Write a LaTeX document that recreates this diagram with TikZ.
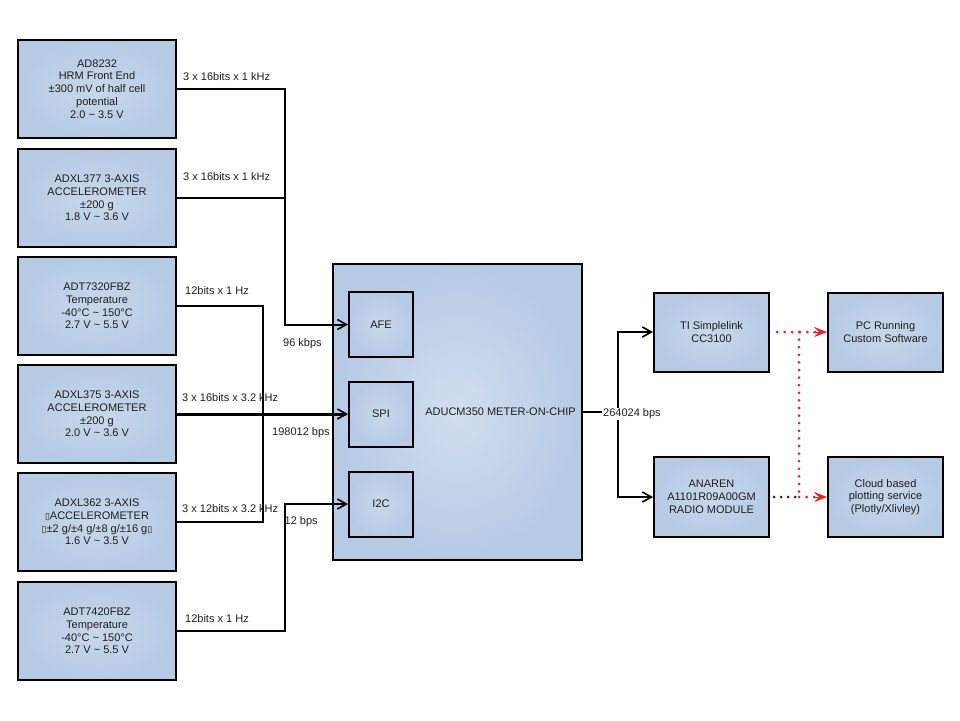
\documentclass[tikz,border=0pt]{standalone}
\usepackage{fontspec}
\setmainfont{Liberation Sans}
\newfontfamily\dejavu{DejaVu Sans}
\usetikzlibrary{arrows.meta}
\definecolor{boxin}{RGB}{200,216,236}
\definecolor{boxout}{RGB}{182,202,228}
\definecolor{dotred}{RGB}{226,38,38}
\definecolor{txtc}{RGB}{30,30,30}
\tikzset{
  blk/.style={draw=black, line width=2pt, inner color=boxin, outer color=boxout,
    align=center, text=txtc, font=\fontsize{11}{12.8}\selectfont, inner sep=0pt},
  sensor/.style={blk, minimum width=158pt, minimum height=98pt},
  port/.style={blk, minimum width=64pt, minimum height=65pt},
  dev/.style={blk, minimum width=115pt, minimum height=79pt},
  lbl/.style={anchor=west, text=txtc, font=\fontsize{11}{12.8}\selectfont, inner sep=0pt},
  wire/.style={line width=2pt, draw=black},
  barb/.style={-{Straight Barb[length=9pt,width=10pt,line width=1.6pt]}},
  reddot/.style={draw=dotred, line width=3pt, line cap=round, dash pattern=on 0pt off 7.6pt},
  blackdot/.style={draw=black!85, line width=3pt, line cap=round, dash pattern=on 0pt off 7pt},
  redtip/.style={-{Stealth[length=13pt,width=10pt,inset=5pt]}}
}
\begin{document}
\begin{tikzpicture}[x=1pt,y=-1pt]
\useasboundingbox[fill=white] (0,0) rectangle (960,720);

% sensors
\node[sensor] (s1) at (97,89) {AD8232\\HRM Front End\\±300 mV of half cell\\potential\\2.0 \textasciitilde{} 3.5 V};
\node[sensor] (s2) at (97,198) {ADXL377 3-AXIS\\ACCELEROMETER\\±200 g\\1.8 V \textasciitilde{} 3.6 V};
\node[sensor] (s3) at (97,306) {ADT7320FBZ\\Temperature\\-40°C \textasciitilde{} 150°C\\2.7 V \textasciitilde{} 5.5 V};
\node[sensor] (s4) at (97,414) {ADXL375 3-AXIS\\ACCELEROMETER\\±200 g\\2.0 V \textasciitilde{} 3.6 V};
\node[sensor] (s5) at (97,522) {ADXL362 3-AXIS\\{\dejavu\fontsize{9}{12.8}\selectfont ▯}ACCELEROMETER\\{\dejavu\fontsize{9}{12.8}\selectfont ▯}±2 g/±4 g/±8 g/±16 g{\dejavu\fontsize{9}{12.8}\selectfont ▯}\\1.6 V \textasciitilde{} 3.5 V};
\node[sensor] (s6) at (97,631) {ADT7420FBZ\\Temperature\\-40°C \textasciitilde{} 150°C\\2.7 V \textasciitilde{} 5.5 V};

% main chip
\node[blk, minimum width=249pt, minimum height=296pt, inner color=boxin!85!white] (main) at (457.5,412) {};
\node[lbl, anchor=center] (mainlbl) at (500.5,412) {ADUCM350 METER-ON-CHIP};
\node[port] (afe) at (381,324.5) {AFE};
\node[port] (spi) at (381,414) {SPI};
\node[port] (i2c) at (381,504) {I2C};

% radios and endpoints
\node[dev] (ti) at (711.5,332) {TI Simplelink\\CC3100};
\node[dev, minimum height=80pt] (an) at (711.5,497) {ANAREN\\A1101R09A00GM\\RADIO MODULE};
\node[dev] (pc) at (885.5,332) {PC Running\\Custom Software};
\node[dev, minimum height=80pt] (cloud) at (885.5,497) {Cloud based\\plotting service\\(Plotly/Xlivley)};

% bus coordinates
\coordinate (busA) at (285,0);
\coordinate (busB) at (263,0);
\coordinate (busC) at (618,0);
\coordinate (busD) at (799,0);

% sensor wiring
\draw[wire, barb] (s1.east) -- (s1.east -| busA) |- (afe.west);
\draw[wire] (s2.east) -- (s2.east -| busA);
\draw[wire] (s3.east) -- (s3.east -| busB) -- (s5.east -| busB) -- (s5.east);
\draw[line width=3pt, barb] (s4.east) -- (spi.west);
\draw[wire, barb] (s6.east) -- (s6.east -| busA) |- (i2c.west);

% output wiring
\draw[wire] (main.east) -- (main.east -| busC);
\draw[wire, barb] (main.east -| busC) |- (ti.west);
\draw[wire, barb] (main.east -| busC) |- (an.west);

% wireless links
\draw[reddot] ([xshift=7pt]ti.east) -- ([xshift=-12pt]pc.west);
\draw[draw=dotred, fill=dotred, line width=0.6pt, redtip] ([xshift=-14pt]pc.west) -- (pc.west);
\draw[reddot] (ti.east -| busD) -- (an.east -| busD);
\draw[blackdot] ([xshift=4pt]an.east) -- (an.east -| busD);
\draw[reddot] (an.east -| busD) -- ([xshift=-12pt]cloud.west);
\draw[draw=dotred, fill=dotred, line width=0.6pt, redtip] ([xshift=-14pt]cloud.west) -- (cloud.west);

% labels
\node[lbl] (l1) at (183,77) {3 x 16bits x 1 kHz};
\node[lbl] (l2) at (183,177) {3 x 16bits x 1 kHz};
\node[lbl] (l3) at (185,291) {12bits x 1 Hz};
\node[lbl] (l4) at (182,398) {3 x 16bits x 3.2 kHz};
\node[lbl] (l5) at (283,344) {96 kbps};
\node[lbl] (l6) at (272,433) {198012 bps};
\node[lbl] (l7) at (182,509) {3 x 12bits x 3.2 kHz};
\node[lbl] (l8) at (284.5,522) {12 bps};
\node[lbl] (l9) at (185,619) {12bits x 1 Hz};
\node[lbl, fill=white, inner xsep=1pt, inner ysep=1pt] (l10) at (602,414) {264024 bps};
\end{tikzpicture}
\end{document}
